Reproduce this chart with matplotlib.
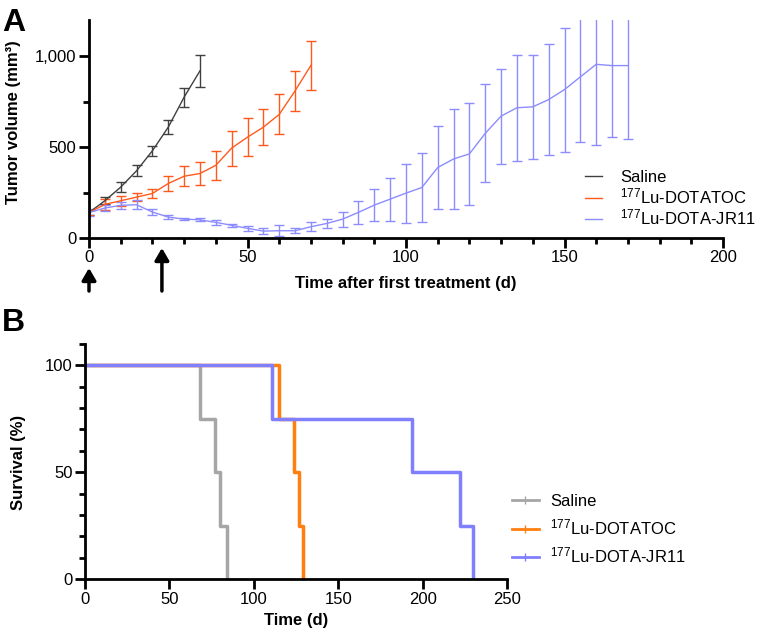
import numpy as np
import matplotlib
matplotlib.use("Agg")
import matplotlib.pyplot as plt

plt.rcParams['font.family'] = ['Liberation Sans', 'DejaVu Sans']
plt.rcParams['mathtext.fontset'] = 'custom'
plt.rcParams['mathtext.rm'] = 'Liberation Sans'

# ---- panel A: tumour volume (mean +/- SEM)
saline_days = [0, 5, 10, 15, 20, 25, 30, 35]
saline_mean = [140, 205, 280, 370, 480, 610, 775, 920]
saline_err = [15, 20, 27, 30, 29, 39, 53, 90]

dotatoc_days = [0, 5, 10, 15, 20, 25, 30, 35, 40, 45, 50, 55, 60, 65, 70]
dotatoc_mean = [140, 185, 205, 225, 245, 300, 340, 355, 400, 495, 555, 610, 680, 810, 950]
dotatoc_err = [15, 30, 27, 23, 26, 41, 54, 61, 79, 96, 103, 99, 110, 110, 137]

jr11_days = [0, 5, 10, 15, 20, 25, 30, 35, 40, 45, 50, 55, 60, 65, 70, 75, 80, 85,
             90, 95, 100, 105, 110, 115, 120, 125, 130, 135, 140, 145, 150, 155,
             160, 165, 170]
jr11_mean = [140, 165, 180, 183, 143, 115, 104, 100, 86, 70, 53, 38, 40, 40, 62, 80,
             104, 141, 181, 214, 247, 278, 388, 435, 463, 576, 671, 717, 722, 762,
             817, 887, 956, 949, 949]
jr11_err = [20, 18, 20, 25, 14, 9, 5, 8, 15, 8, 12, 17, 30, 15, 25, 27, 41, 62, 90,
            119, 162, 192, 230, 275, 282, 269, 262, 292, 288, 306, 341, 361, 445,
            392, 404]

treatment_days = [0, 23]

# ---- panel B: Kaplan-Meier survival
saline_t = [0, 68, 77, 80, 84]
saline_s = [100, 75, 50, 25, 0]
dotatoc_t = [0, 115, 124, 127, 129]
dotatoc_s = [100, 75, 50, 25, 0]
jr11_t = [0, 111, 194, 222, 230]
jr11_s = [100, 75, 50, 25, 0]

labels = ['Saline', r'$\mathregular{^{177}}$Lu-DOTATOC', r'$\mathregular{^{177}}$Lu-DOTA-JR11']
colors_a = ['#404040', '#ff5a1e', '#8c8cff']
colors_b = ['#a6a6a6', '#ff7f0f', '#8080ff']

W, H = 757, 632
fig = plt.figure(figsize=(W / 100, H / 100), dpi=100)


def style_axes(ax):
    for s in ['top', 'right']:
        ax.spines[s].set_visible(False)
    for s in ['left', 'bottom']:
        ax.spines[s].set_linewidth(2)
    ax.tick_params(which='major', width=2, length=7, labelsize=12, pad=2)
    ax.tick_params(which='minor', width=2, length=4.5)


# panel A
axA = fig.add_axes([89 / W, 1 - 238 / H, (723 - 89) / W, (238 - 20) / H])
style_axes(axA)
series = [(saline_days, saline_mean, saline_err),
          (dotatoc_days, dotatoc_mean, dotatoc_err),
          (jr11_days, jr11_mean, jr11_err)]
for (d, m, e), c, lab in zip(series, colors_a, labels):
    axA.errorbar(d, m, yerr=e, color=c, lw=1, elinewidth=1, capsize=3.5,
                 capthick=1, label=lab)
axA.set_xlim(0, 200)
axA.set_ylim(0, 1200)
axA.set_xticks(np.arange(0, 201, 50))
axA.set_xticks(np.arange(0, 201, 10), minor=True)
axA.set_yticks([0, 500, 1000])
axA.set_yticklabels(['0', '500', '1,000'])
axA.set_yticks([250, 750], minor=True)
axA.set_xlabel('Time after first treatment (d)', fontsize=12, fontweight='bold', va='top')
axA.xaxis.set_label_coords(0.5, -(276 - 238) / 218)
axA.set_ylabel('Tumor volume (mm³)', fontsize=12, fontweight='bold')
axA.yaxis.set_label_coords(-(89 - 21) / 634, (238 - 122) / 218)
hA = [plt.Line2D([], [], color=c, lw=1) for c in colors_a]
axA.legend(hA, labels, loc='center left', bbox_to_anchor=(585 / W, 1 - 199 / H),
           bbox_transform=fig.transFigure, frameon=False, fontsize=12,
           handlelength=1.0, handletextpad=1.1, labelspacing=0.08,
           borderpad=0, borderaxespad=0)

arrow_tops = [-(268 - 238) / 218, -(248 - 238) / 218]
for d, top in zip(treatment_days, arrow_tops):
    axA.annotate('', xy=(d, top), xytext=(d, -(291 - 238) / 218),
                 xycoords=('data', 'axes fraction'), annotation_clip=False,
                 arrowprops=dict(arrowstyle='-|>,head_width=0.35,head_length=0.6',
                                 lw=2.5, color='black', mutation_scale=12,
                                 shrinkA=0, shrinkB=0))

# panel B
axB = fig.add_axes([85 / W, 1 - 579 / H, (507 - 85) / W, (579 - 344) / H])
style_axes(axB)
for t, s, c, lab in zip([saline_t, dotatoc_t, jr11_t], [saline_s, dotatoc_s, jr11_s],
                        colors_b, labels):
    axB.step(t, s, where='post', color=c, lw=2.5, label=lab)
axB.set_xlim(0, 250)
axB.set_ylim(0, 110)
axB.set_xticks(np.arange(0, 251, 50))
axB.set_yticks([0, 50, 100])
axB.set_yticks(np.arange(10, 111, 10), minor=True)
axB.set_xlabel('Time (d)', fontsize=12, fontweight='bold', va='top')
axB.xaxis.set_label_coords(0.5, -(613 - 579) / 235)
axB.set_ylabel('Survival (%)', fontsize=12, fontweight='bold')
axB.yaxis.set_label_coords(-(85 - 26) / 422, 0.494)
hB = [plt.Line2D([], [], color=c, lw=2, marker='|', markersize=6) for c in colors_b]
axB.legend(hB, labels, loc='center left', bbox_to_anchor=(512 / W, 1 - 530 / H),
           bbox_transform=fig.transFigure, frameon=False, fontsize=12,
           handlelength=1.6, handletextpad=0.7, labelspacing=0.5,
           borderpad=0, borderaxespad=0)

fig.text(2 / W, 1 - 8 / H, 'A', fontsize=23, fontweight='bold', va='top')
fig.text(2 / W, 1 - 308 / H, 'B', fontsize=23, fontweight='bold', va='top')

fig.savefig('out.png', dpi=100)
